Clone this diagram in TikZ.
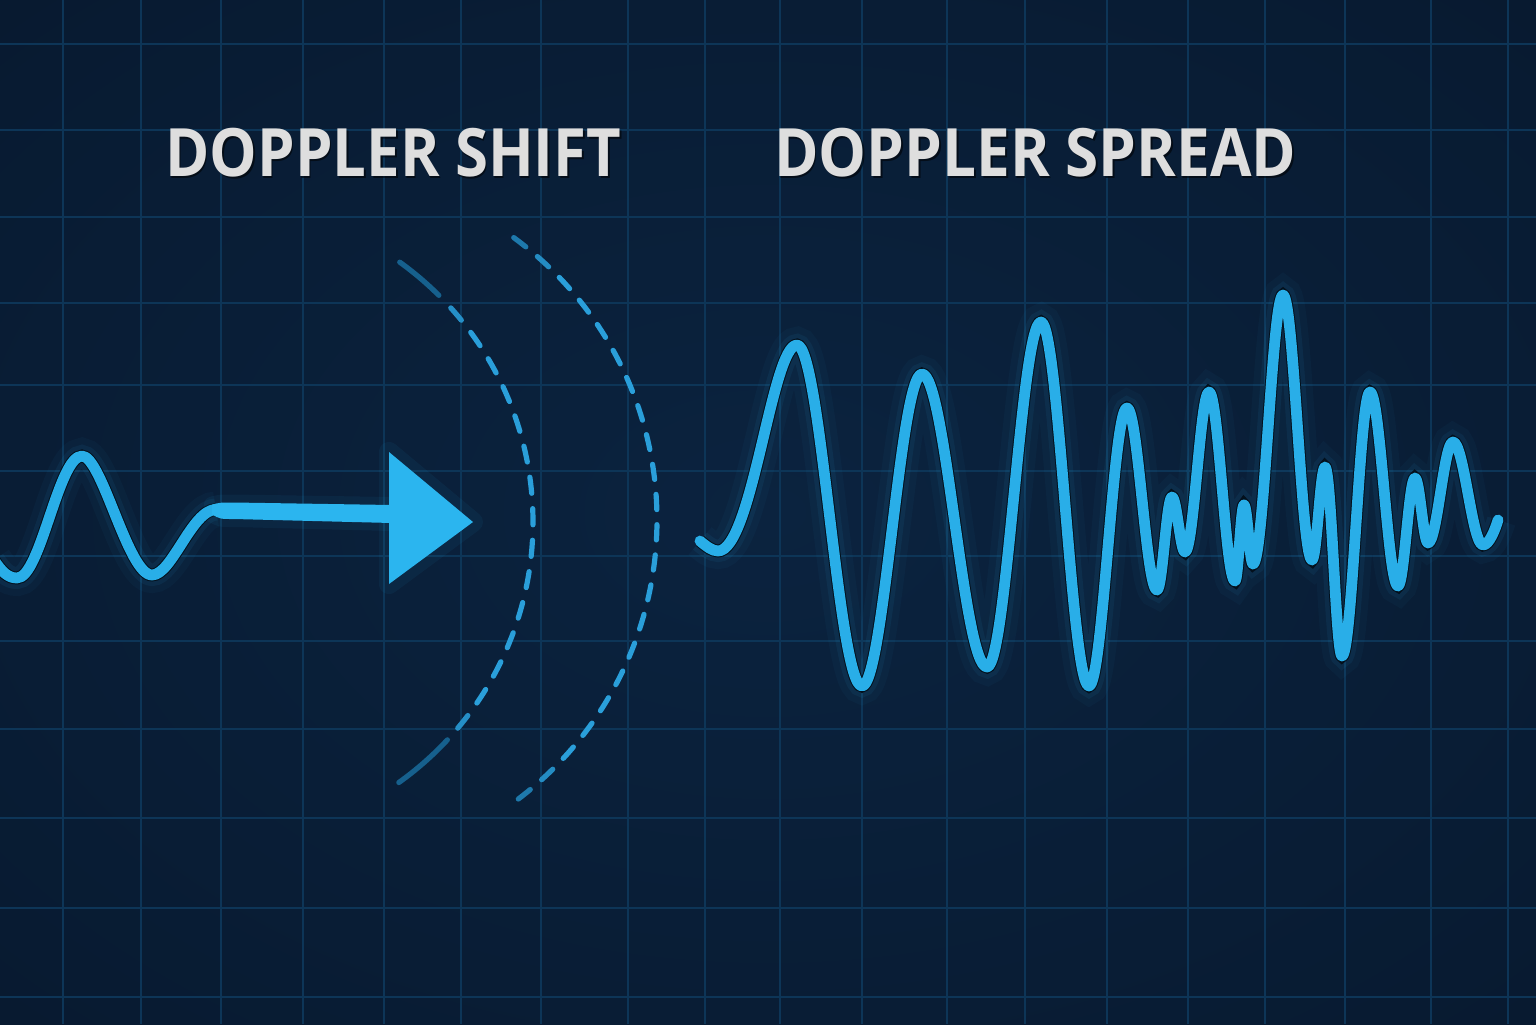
\documentclass[tikz,border=0pt]{standalone}
\usepackage{fontspec}
\setmainfont{Open Sans}
\usepackage{graphicx}
\definecolor{bgin}{HTML}{0B233F}
\definecolor{bgmid}{HTML}{081B32}
\definecolor{bgout}{HTML}{020A15}
\definecolor{gridc}{HTML}{0D3557}
\definecolor{wave}{HTML}{29AEE8}
\definecolor{outl}{HTML}{03101C}
\definecolor{arrowc}{HTML}{2BB5EF}
\definecolor{arcb}{HTML}{2A9FDA}
\definecolor{arcd}{HTML}{16608D}
\definecolor{txt}{HTML}{DEDEDE}
\pgfdeclareradialshading{bgshade}{\pgfpoint{0bp}{0bp}}{color(0bp)=(bgin); color(32bp)=(bgmid); color(72bp)=(bgout)}
\tikzset{
  gridline/.style={draw=gridc, line width=1pt},
  wavestroke/.style={draw=wave, line width=5.4pt, line cap=round, line join=round,
    preaction={draw=wave, line width=18pt, opacity=0.04},
    preaction={draw=wave, line width=11pt, opacity=0.07},
    preaction={draw=outl, line width=6.4pt}},
  arcline/.style={line width=2.6pt, line cap=round},
  title/.style={text=txt, inner sep=0pt, anchor=north west, font=\bfseries},
  titleshadow/.style={text=black, opacity=0.55, inner sep=0pt, anchor=north west, font=\bfseries},
}
\begin{document}
\begin{tikzpicture}[x=0.5pt, y=-0.5pt]
\useasboundingbox (0,0) rectangle (1536,1024);
% background
\shade[shading=bgshade] (0,0) rectangle (1536,1024);
% grid
\foreach \gx in {63,141,221,303,384,461,541,628,705,780,862,947,1025,1107,1188,1265,1345,1431,1508}
  \draw[gridline] (\gx,0) -- (\gx,1024);
\foreach \gy in {44,130,217,303,385,471,556,641,729,818,908,997}
  \draw[gridline] (0,\gy) -- (1536,\gy);
% titles
\node[titleshadow] (s1) at (166.5,129.5) {\resizebox*{228pt}{24.5pt}{DOPPLER SHIFT}};
\node[title] (t1) at (165,128) {\resizebox*{228pt}{24.5pt}{DOPPLER SHIFT}};
\node[titleshadow] (s2) at (775.5,129.5) {\resizebox*{261pt}{24.5pt}{DOPPLER SPREAD}};
\node[title] (t2) at (774,128) {\resizebox*{261pt}{24.5pt}{DOPPLER SPREAD}};
% dashed arcs - inner
\draw[arcline, draw=arcd] (213,522) ++(-54.3:320) arc[start angle=-54.3, end angle=-45.1, radius=320];
\foreach \k in {0,...,14} {
  \pgfmathsetmacro\aa{-42.0+\k*5.658}
  \pgfmathsetmacro\bb{\aa+2.9}
  \pgfmathtruncatemacro\pc{min(100,75+25*min(\k,14-\k))}
  \draw[arcline, draw=arcb!\pc!arcd] (213,522) ++(\aa:320) arc[start angle=\aa, end angle=\bb, radius=320];
}
\draw[arcline, draw=arcd] (213,522) ++(42.9:320) arc[start angle=42.9, end angle=54.5, radius=320];
% dashed arcs - outer
\foreach \k in {0,...,21} {
  \pgfmathsetmacro\aa{-53.8+\k*4.96}
  \pgfmathsetmacro\bb{\aa+2.5}
  \pgfmathtruncatemacro\pc{min(100,40+30*min(\k,21-\k))}
  \draw[arcline, draw=arcb!\pc!arcd] (307,520) ++(\aa:350) arc[start angle=\aa, end angle=\bb, radius=350];
}
% left wave + arrow
\draw[wavestroke] (-6,560) .. controls (2,572) and (8,578) .. (17,578)
  .. controls (40.7,578) and (58.3,456) .. (82,456)
  .. controls (102,456) and (128,575) .. (152,575)
  .. controls (172,575) and (192,509.5) .. (216,509.5);
\fill[arrowc, preaction={draw=arrowc, line width=8pt, opacity=0.06, line join=round}]
  (212,504.6) .. controls (220,502.5) .. (234,502.5) -- (392,505) -- (392,523)
  -- (234,519) .. controls (220,519) .. (212,514.4) -- cycle;
\fill[arrowc, preaction={draw=arrowc, line width=10pt, opacity=0.06, line join=round}]
  (389,452) -- (473,522) -- (389,584) -- cycle;
% right wave
\draw[wavestroke] (700,541) .. controls (706,546) and (712,551) .. (718,551)
  .. controls (752,551) and (772,345) .. (797,345)
  .. controls (820.7,345) and (838.3,686) .. (862,686)
  .. controls (883.8,686) and (900.2,374) .. (922,374)
  .. controls (945.7,374) and (963.3,667) .. (987,667)
  .. controls (1006.7,667) and (1021.3,322) .. (1041,322)
  .. controls (1058.5,322) and (1071.5,686) .. (1089,686)
  .. controls (1102.8,686) and (1113.2,408) .. (1127,408)
  .. controls (1137.9,408) and (1146.1,590) .. (1157,590)
  .. controls (1162.5,590) and (1166.5,497) .. (1172,497)
  .. controls (1176.7,497) and (1180.3,552) .. (1185,552)
  .. controls (1193.7,552) and (1200.3,392) .. (1209,392)
  .. controls (1218.5,392) and (1225.5,581) .. (1235,581)
  .. controls (1238.3,581) and (1240.7,505) .. (1244,505)
  .. controls (1247.3,505) and (1249.7,564) .. (1253,564)
  .. controls (1263.9,564) and (1272.1,295) .. (1283,295)
  .. controls (1293.6,295) and (1301.4,560) .. (1312,560)
  .. controls (1316.7,560) and (1320.3,467) .. (1325,467)
  .. controls (1331.2,467) and (1335.8,656) .. (1342,656)
  .. controls (1352.2,656) and (1359.8,392) .. (1370,392)
  .. controls (1380.2,392) and (1387.8,586) .. (1398,586)
  .. controls (1404.2,586) and (1408.8,478) .. (1415,478)
  .. controls (1419.7,478) and (1423.3,543) .. (1428,543)
  .. controls (1437.1,543) and (1443.9,442) .. (1453,442)
  .. controls (1463.9,442) and (1472.1,545) .. (1483,545)
  .. controls (1489,545) and (1495,530) .. (1498,520);
\end{tikzpicture}
\end{document}
